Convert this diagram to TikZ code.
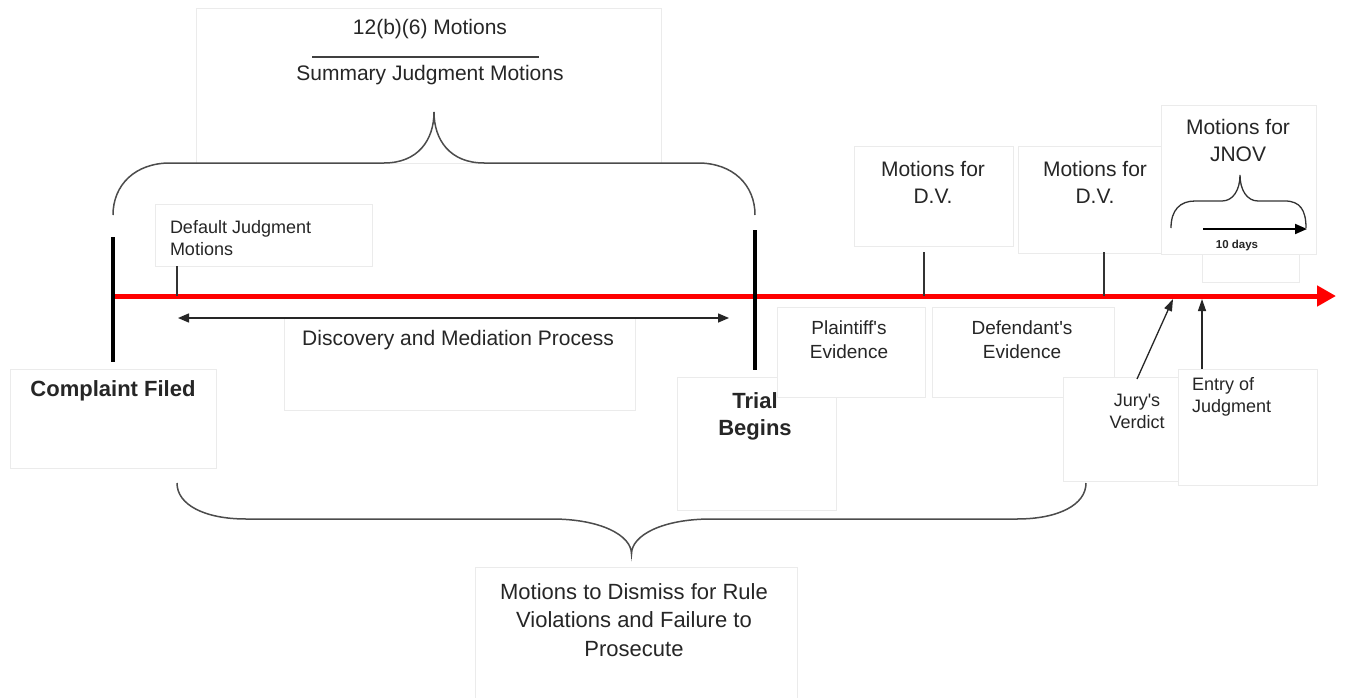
\documentclass[tikz,border=0pt]{standalone}
\usepackage{fontspec}
\setmainfont{Liberation Sans}
\usetikzlibrary{arrows.meta}
\tikzset{
  box/.style={draw=black!8, line width=0.8pt, fill=white, inner sep=0pt, outer sep=0pt},
  txt/.style={text=black!85, align=center, inner sep=0pt, outer sep=0pt},
  fbig/.style={font=\fontsize{21}{27}\selectfont},
  fbold/.style={font=\fontsize{22}{27}\selectfont\bfseries},
  fmid/.style={font=\fontsize{19}{24}\selectfont},
  fsmall/.style={font=\fontsize{18}{22}\selectfont},
  fmot/.style={font=\fontsize{22}{28.5}\selectfont},
  brace/.style={draw=black!70, line width=1.5pt},
  tick/.style={draw=black!80, line width=1.2pt},
  bar/.style={draw=black, line width=4pt},
  thinarrow/.style={draw=black!85, line width=1.3pt, -{Triangle[length=12pt,width=8pt]}},
}
\begin{document}
\begin{tikzpicture}[x=1pt,y=-1pt]
\clip (0,0) rectangle (1346,698);
\fill[white] (0,0) rectangle (1346,698);
% boxes
\draw[box] (196,8) rectangle (661,163);
\draw[box] (155,204) rectangle (372,266);
\draw[box] (10,369) rectangle (216,468);
\draw[box] (284,318) rectangle (635,410);
\draw[box] (677,377) rectangle (836,510);
\draw[box] (932,307) rectangle (1114,397);
\draw[box] (1063,377) rectangle (1190,481);
\draw[box] (777,307) rectangle (925,397);
\draw[box] (1178,369) rectangle (1317,485);
\draw[box] (854,146) rectangle (1013,246);
\draw[box] (1018,146) rectangle (1172,253);
\draw[box] (1202,220) rectangle (1299,282);
\draw[box] (1161,105) rectangle (1316,254);
\draw[box] (475,567) rectangle (797,720);
% coordinates
\coordinate (tlStart) at (113,296);
\coordinate (tlEnd) at (1336,296);
\coordinate (cTop) at (113,237);
\coordinate (cBot) at (113,362);
\coordinate (trTop) at (755,230);
\coordinate (trBot) at (755,370);
\coordinate (dfTop) at (177,266);
\coordinate (dfBot) at (177,296);
\coordinate (dv1Top) at (924,252);
\coordinate (dv1Bot) at (924,296);
\coordinate (dv2Top) at (1104,252);
\coordinate (dv2Bot) at (1104,296);
\coordinate (discL) at (178,318);
\coordinate (discR) at (729,318);
\coordinate (juryFrom) at (1137,379);
\coordinate (juryTo) at (1173,299);
\coordinate (entFrom) at (1202,369);
\coordinate (entTo) at (1202,299);
\coordinate (tenL) at (1203,229);
\coordinate (tenR) at (1307,229);
\coordinate (ruleL) at (312,57);
\coordinate (ruleR) at (539,57);
% timeline
\draw[red, line width=5pt, -{Triangle[length=19pt,width=20pt]}] (tlStart) -- (tlEnd);
\draw[bar] (cTop) -- (cBot);
\draw[bar] (trTop) -- (trBot);
\draw[tick] (dfTop) -- (dfBot);
\draw[tick] (dv1Top) -- (dv1Bot);
\draw[tick] (dv2Top) -- (dv2Bot);
\draw[draw=black!85, line width=1.5pt, {Triangle[length=11pt,width=9pt]}-{Triangle[length=11pt,width=9pt]}] (discL) -- (discR);
\draw[thinarrow] (juryFrom) -- (juryTo);
\draw[thinarrow] (entFrom) -- (entTo);
\draw[draw=black, line width=2pt, -{Triangle[length=12pt,width=10pt]}] (tenL) -- (tenR);
\draw[draw=black!75, line width=1.5pt] (ruleL) -- (ruleR);
% braces
\draw[brace] (113,215) .. controls (113,185) and (135,163) .. (170,163) -- (384,163)
  .. controls (418,163) and (434,140) .. (434,112) .. controls (434,140) and (450,163) .. (484,163)
  -- (698,163) .. controls (733,163) and (755,185) .. (755,215);
\draw[brace] (177,483) .. controls (177,505) and (205,519) .. (246,519) -- (552,519)
  .. controls (600,519) and (631.5,535) .. (631.5,554) .. controls (631.5,535) and (663,519) .. (711,519)
  -- (1017,519) .. controls (1058,519) and (1086,505) .. (1086,483);
\draw[draw=black!80, line width=1.3pt] (1171,228) .. controls (1171,210) and (1180,201) .. (1195,201) -- (1222,201)
  .. controls (1233,201) and (1240,190) .. (1240,175) .. controls (1240,190) and (1247,201) .. (1258,201)
  -- (1285,201) .. controls (1300,201) and (1306,210) .. (1306,228);
% texts
\node[txt, fbig] (t12b) at (430,29) {12(b)(6) Motions};
\node[txt, fbig] (tsum) at (430,75) {Summary Judgment Motions};
\node[txt, fsmall, align=left, anchor=west] (tdef) at (170,238) {Default Judgment\\Motions};
\node[txt, fbold] (tcomp) at (113,391) {Complaint Filed};
\node[txt, fbig] (tdisc) at (458,340) {Discovery and Mediation Process};
\node[txt, fbold] (ttrial) at (755,416) {Trial\\Begins};
\node[txt, fmid] (tplain) at (849,340) {Plaintiff\textquotesingle s\\Evidence};
\node[txt, fmid] (tdefend) at (1022,340) {Defendant\textquotesingle s\\Evidence};
\node[txt, fsmall] (tjury) at (1137,411) {Jury\textquotesingle s\\Verdict};
\node[txt, fsmall, align=left, anchor=west] (tentry) at (1192,397) {Entry of\\Judgment};
\node[txt, fbig] (tdv1) at (933,182) {Motions for\\D.V.};
\node[txt, fbig] (tdv2) at (1095,182) {Motions for\\D.V.};
\node[txt, fbig] (tjnov) at (1238,140) {Motions for\\JNOV};
\node[txt, font=\fontsize{11.5}{14}\selectfont\bfseries] (tten) at (1237,246) {10 days};
\node[txt, fmot] (tmot) at (634,620) {Motions to Dismiss for Rule\\Violations and Failure to\\Prosecute};
\end{tikzpicture}
\end{document}
